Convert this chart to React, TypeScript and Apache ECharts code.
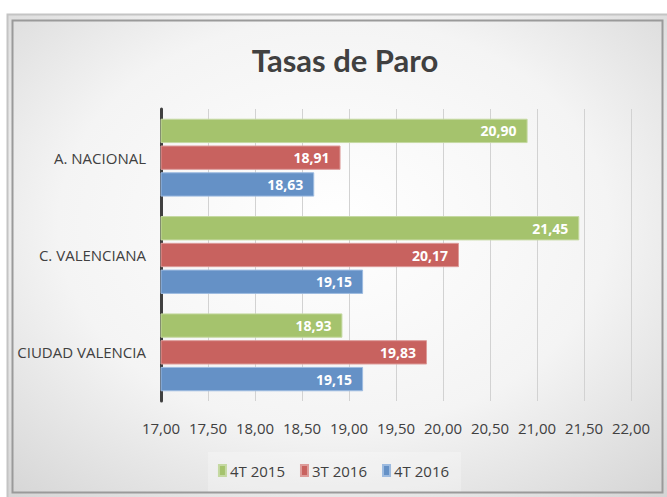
import React, { useEffect, useRef } from "react";
import * as echarts from "echarts";

const categories = ["A. NACIONAL", "C. VALENCIANA", "CIUDAD VALENCIA"];
const seriesNames = ["4T 2015", "3T 2016", "4T 2016"];
const values4T2015 = [20.9, 21.45, 18.93];
const values3T2016 = [18.91, 20.17, 19.83];
const values4T2016 = [18.63, 19.15, 19.15];
const colors = ["#a5c36d", "#c8625f", "#6591c6"];
const borderColors = ["#c5d9a2", "#dd9c9a", "#9dbbe0"];

const fmt = (v: number) => v.toFixed(2).replace(".", ",");

export default function App() {
  const ref = useRef<HTMLDivElement>(null);
  useEffect(() => {
    if (!ref.current) return;
    const chart = echarts.init(ref.current, undefined, { renderer: "svg" });
    const font = "'Open Sans', sans-serif";
    const allValues = [values4T2015, values3T2016, values4T2016];
    chart.setOption({
      animation: false,
      backgroundColor: {
        type: "radial",
        x: 0.5,
        y: 0.45,
        r: 0.75,
        colorStops: [
          { offset: 0, color: "#ffffff" },
          { offset: 0.55, color: "#f4f4f4" },
          { offset: 1, color: "#d4d4d4" },
        ],
      },
      graphic: [
        { type: "rect", shape: { x: 0, y: 0, width: 667, height: 14 }, style: { fill: "#ffffff" }, silent: true },
        { type: "rect", shape: { x: 0, y: 0, width: 7, height: 497 }, style: { fill: "#ffffff" }, silent: true },
        { type: "rect", shape: { x: 7.5, y: 14.5, width: 665, height: 490 }, style: { fill: "none", stroke: "#c4c4c4", lineWidth: 2 }, silent: true },
        { type: "rect", shape: { x: 12.5, y: 20.5, width: 650, height: 472 }, style: { fill: "none", stroke: "#9a9a9a", lineWidth: 2 }, silent: true },
        { type: "rect", shape: { x: 208, y: 452, width: 253, height: 40 }, style: { fill: "rgba(255,255,255,0.25)" }, silent: true, z: -1 },
      ],
      title: {
        text: "Tasas de Paro",
        left: 340,
        textAlign: "center",
        top: 39,
        textStyle: { fontFamily: "Lato, 'Open Sans', sans-serif", fontWeight: "bold", fontSize: 31, color: "#404040" },
      },
      legend: {
        data: seriesNames,
        bottom: 14,
        left: "center",
        itemWidth: 7,
        itemHeight: 11,
        itemGap: 15,
        icon: "rect",
        textStyle: { fontFamily: font, fontSize: 15, color: "#404040", padding: [0, 0, 0, -1] },
      },
      grid: { left: 161, right: 36, top: 109, bottom: 96, containLabel: false },
      xAxis: {
        type: "value",
        min: 17,
        max: 22,
        interval: 0.5,
        axisLine: { show: false },
        axisTick: { show: false },
        axisLabel: {
          formatter: (v: number) => fmt(v),
          fontFamily: font,
          fontSize: 15,
          color: "#404040",
          margin: 19,
        },
        splitLine: { lineStyle: { color: "#d2d2d2", width: 1 } },
      },
      yAxis: {
        type: "category",
        data: categories,
        inverse: true,
        axisLine: { show: true, lineStyle: { color: "#404040", width: 3 } },
        axisTick: { show: false },
        axisLabel: { fontFamily: font, fontSize: 15, color: "#404040", margin: 15 },
      },
      series: seriesNames.map((name, i) => ({
        name,
        type: "bar",
        data: allValues[i],
        barCategoryGap: "20%",
        barGap: "10%",
        itemStyle: { color: colors[i], borderColor: borderColors[i], borderWidth: 1 },
        label: {
          show: true,
          position: "insideRight",
          distance: 11,
          formatter: (p: any) => fmt(p.value),
          fontFamily: font,
          fontWeight: "bold",
          fontSize: 14,
          color: "#ffffff",
        },
      })),
    });
    return () => chart.dispose();
  }, []);
  return <div ref={ref} style={{ width: 667, height: 497, position: "absolute", left: 0, top: 0 }} />;
}
